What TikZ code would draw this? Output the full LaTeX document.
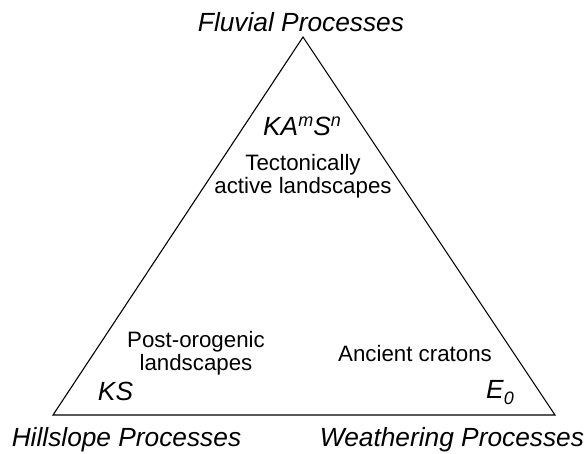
\documentclass[tikz,border=0pt]{standalone}
\usepackage{fontspec}
\setmainfont{Liberation Sans}
\usepackage{tikz}
\usetikzlibrary{positioning}

\newcommand{\corner}{\fontsize{26.3}{30}\selectfont\itshape}
\newcommand{\regiontext}{\fontsize{22.3}{23}\selectfont}
\newcommand{\supit}[1]{\raisebox{9pt}{\fontsize{18}{18}\selectfont #1}}

\begin{document}
\begin{tikzpicture}[x=1pt, y=-1pt,
        corner label/.style={inner sep=0pt, anchor=base, font=\corner},
        region label/.style={inner sep=0pt, align=center, font=\regiontext},
        law/.style={inner sep=0pt, anchor=base, font=\corner}]
        \useasboundingbox (0,0) rectangle (587,453);
        % triangle corners
        \coordinate (fluv) at (303,37);
        \coordinate (hill) at (53,415);
        \coordinate (weath) at (555,415);
        \draw[line width=1.1pt, line join=miter] (fluv) -- (hill) -- (weath) -- cycle;

        % process names at the corners
        \node[corner label] (fluvlabel) at (301,31.5) {Fluvial Processes};
        \node[corner label] (hilllabel) at (126.5,446) {Hillslope Processes};
        \node[corner label] (weathlabel) at (452,446) {Weathering Processes};

        % erosion laws
        \node[law] (streampower) at (302,135) {KA\supit{m}S\supit{n}};
        \node[law] (diffusion) at (115.5,400) {KS};
        \node[law] (production) at (500,398) {E\raisebox{-6pt}{\fontsize{18}{18}\selectfont 0}};

        % landscape types (base = last line)
        \node[region label, anchor=base] (tectonic) at (303,193) {Tectonically\\active landscapes};
        \node[region label, anchor=base] (postorog) at (196,370) {Post-orogenic\\landscapes};
        \node[region label, anchor=base] (craton) at (415,361) {Ancient cratons};
    \end{tikzpicture}
\end{document}
